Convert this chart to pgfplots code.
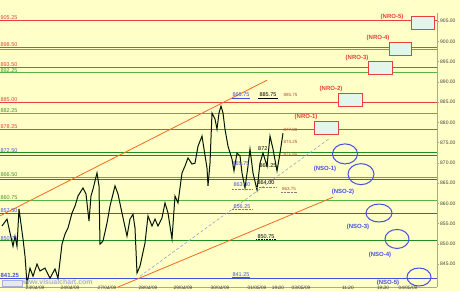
\documentclass[border=0pt]{standalone}
\usepackage{fontspec}
\setmainfont{Liberation Sans}
\usepackage{pgfplots}
\pgfplotsset{compat=1.18}
\definecolor{bgy}{HTML}{FFFFC8}
\definecolor{lred}{HTML}{E8403A}
\definecolor{lgreen}{HTML}{5AB43C}
\definecolor{dgreen}{HTML}{1E8C1E}
\definecolor{lblue}{HTML}{4650DC}
\definecolor{lorange}{HTML}{F06A1E}
\definecolor{dashc}{HTML}{9AA0D0}
\definecolor{boxfill}{HTML}{E2F6EC}
\definecolor{brn}{HTML}{B05030}
\definecolor{wm}{HTML}{A8B0D8}
\newcommand\lbl{\fontsize{5.5}{6}\selectfont}
\newcommand\nlbl{\bfseries\fontsize{6}{7}\selectfont}
\begin{document}
\begin{tikzpicture}[x=1pt,y=1pt]
\useasboundingbox (0,0) rectangle (460,291);
\fill[bgy] (0,0) rectangle (460,291);
\begin{axis}[at={(0,10)}, anchor=south west, scale only axis,
  width=437pt, height=274pt,
  xmin=0, xmax=437, ymin=839.35, ymax=907.0,
  axis y line*=right, axis x line*=bottom,
  axis line style={gray!70, line width=0.6pt},
  tick style={gray!70, line width=0.5pt},
  major tick length=2pt,
  tick align=outside,
  ytick={845,850,...,905},
  yticklabel style={font=\fontsize{5}{6}\selectfont, text=black!75, inner sep=1pt, /pgf/number format/.cd, fixed, fixed zerofill, precision=2},
  xtick={35,70,107,148,183,220,257,278,301,348,383,408},
  xticklabels={23/04/09,24/04/09,27/04/09,28/04/09,29/04/09,30/04/09,01/05/09,19:00,03/05/09,11:20,19:30,04/05/09},
  xticklabel style={font=\fontsize{4.8}{5}\selectfont, text=black!75, inner sep=0pt, anchor=north, yshift=3pt},
  /pgf/number format/assume math mode=true,
  clip=true,
]
% horizontal levels
\addplot[lred, line width=0.9pt] coordinates {(0,905.25) (437,905.25)};
\addplot[lred, line width=0.9pt] coordinates {(0,898.50) (437,898.50)};
\addplot[lgreen, line width=0.9pt] coordinates {(0,898.00) (437,898.00)};
\addplot[lred, line width=0.9pt] coordinates {(0,893.50) (437,893.50)};
\addplot[lgreen, line width=0.9pt] coordinates {(0,892.25) (437,892.25)};
\addplot[lred, line width=0.9pt] coordinates {(0,885.00) (437,885.00)};
\addplot[lgreen, line width=0.9pt] coordinates {(0,882.25) (437,882.25)};
\addplot[lred, line width=0.9pt] coordinates {(0,878.25) (437,878.25)};
\addplot[dgreen, line width=1.3pt] coordinates {(0,872.50) (437,872.50)};
\addplot[lblue, line width=0.9pt] coordinates {(0,871.75) (437,871.75)};
\addplot[lgreen, line width=0.9pt] coordinates {(0,866.50) (437,866.50)};
\addplot[lblue, line width=0.9pt] coordinates {(0,866.00) (437,866.00)};
\addplot[lgreen, line width=1.1pt] coordinates {(0,860.75) (437,860.75)};
\addplot[lblue, line width=0.9pt] coordinates {(0,857.50) (437,857.50)};
\addplot[dgreen, line width=1.1pt] coordinates {(0,850.75) (437,850.75)};
\addplot[lblue, line width=0.9pt] coordinates {(0,841.50) (437,841.50)};
% channel lines
\addplot[lorange, line width=0.8pt] coordinates {(0,856.9) (267,890.4)};
\addplot[lorange, line width=0.8pt] coordinates {(113,838.8) (333,861.5)};
\addplot[dashc, line width=0.6pt, dash pattern=on 3pt off 2pt] coordinates {(140,842.0) (330,876.1)};
% price path
\addplot[black!85!green!60!black, line width=1pt] coordinates {
(2,854.4) (7,856.1) (10,852.7) (13,849.4) (15,851.9) (17,849.4) (19,858.6)
(23,851.2) (25,847.0) (27,840.1) (30,844.0) (33,842.0) (37,845.0) (40,843.3)
(45,844.0) (50,841.5) (55,843.8) (58,841.5) (62,849.9) (65,852.4) (68,853.9)
(72,857.6) (75,859.3) (78,861.8) (83,863.8) (86,862.3) (89,855.6) (91,861.8)
(93,863.5) (97,867.5) (99,864.3) (100,849.9) (103,850.7) (107,855.1) (110,859.3)
(115,864.3) (118,862.3) (122,857.6) (127,851.9) (130,856.1) (133,857.3) (135,853.9)
(137,842.8) (140,844.5) (145,850.2) (148,856.9) (152,854.4) (155,856.1) (158,854.4)
(162,856.4) (165,860.1) (168,857.6) (172,851.2) (175,861.8) (178,860.1) (182,867.5)
(185,869.2) (188,871.2) (192,869.7) (195,869.9) (198,874.1) (202,876.6) (204,873.4)
(207,868.7) (208,864.3) (210,869.9) (212,882.3) (215,880.8) (217,878.3) (219,882.3)
(221,884.0) (223,882.3) (225,878.3) (228,874.1) (232,870.9) (234,868.0) (237,872.4)
(240,871.7) (242,867.5) (245,863.8) (248,869.2) (250,873.4) (253,867.5) (257,863.3)
(260,869.9) (263,872.4) (267,869.2) (270,876.6) (273,873.4) (277,868.0) (280,872.4)
(283,877.3)};
% left labels
\node[anchor=south west, inner sep=0.4pt, font=\lbl, text=lred] at (axis cs:0,905.25) {905.25};
\node[anchor=south west, inner sep=0.4pt, font=\lbl, text=lred] at (axis cs:0,898.50) {898.50};
\node[anchor=south west, inner sep=0.4pt, font=\lbl, text=lred] at (axis cs:0,893.50) {893.50};
\node[anchor=north west, inner sep=0.4pt, font=\lbl, text=lgreen!80!black] at (axis cs:0,893.30) {892.25};
\node[anchor=south west, inner sep=0.4pt, font=\lbl, text=lred] at (axis cs:0,885.00) {885.00};
\node[anchor=south west, inner sep=0.4pt, font=\lbl, text=lgreen!80!black] at (axis cs:0,882.25) {882.25};
\node[anchor=south west, inner sep=0.4pt, font=\lbl, text=lred] at (axis cs:0,878.25) {878.25};
\node[anchor=south west, inner sep=0.4pt, font=\lbl, text=lblue] at (axis cs:0,872.50) {872.50};
\node[anchor=south west, inner sep=0.4pt, font=\lbl, text=lgreen!80!black] at (axis cs:0,866.50) {866.50};
\node[anchor=south west, inner sep=0.4pt, font=\lbl, text=lgreen!80!black] at (axis cs:0,860.75) {860.75};
\node[anchor=south west, inner sep=0.4pt, font=\lbl, text=lblue] at (axis cs:0,857.50) {857.50};
\node[anchor=south west, inner sep=0.4pt, font=\lbl, text=lblue] at (axis cs:0,850.75) {850.75};
\node[anchor=south west, inner sep=0.4pt, font=\bfseries\fontsize{6}{7}\selectfont, text=lblue] at (axis cs:0,841.50) {841.25};
% annotations near price
\node[anchor=south, inner sep=0.4pt, font=\lbl, text=lblue] at (axis cs:241,886.1) {865.75};
\addplot[lblue, line width=0.8pt] coordinates {(232,886.0) (250,886.0)};
\node[anchor=south, inner sep=0.4pt, font=\lbl, text=black] at (axis cs:268,886.1) {885.75};
\addplot[black, line width=0.8pt] coordinates {(258,886.0) (278,886.0)};
\node[anchor=south west, inner sep=0.4pt, font=\fontsize{4.5}{5}\selectfont, text=brn] at (axis cs:283,886.3) {885.75};
\node[anchor=west, inner sep=0.4pt, font=\fontsize{4.5}{5}\selectfont, text=brn] at (axis cs:283,878.1) {877.00};
\node[anchor=west, inner sep=0.4pt, font=\fontsize{4.5}{5}\selectfont, text=brn] at (axis cs:283,875.1) {874.25};
\node[anchor=west, inner sep=0.4pt, font=\fontsize{4.5}{5}\selectfont, text=brn] at (axis cs:283,872.2) {871.50};
\node[anchor=east, inner sep=0.4pt, font=\lbl, text=black] at (axis cs:268,873.4) {872};
\node[anchor=east, inner sep=0.4pt, font=\lbl, text=black] at (axis cs:277,869.2) {868.25};
\node[anchor=center, inner sep=0.4pt, font=\lbl, text=lblue] at (axis cs:241,869.7) {865.75};
\node[anchor=center, inner sep=0.4pt, font=\lbl, text=lblue] at (axis cs:242,864.5) {863.00};
\addplot[gray, line width=0.4pt, densely dotted] coordinates {(232,863.5) (252,863.5)};
\node[anchor=center, inner sep=0.4pt, font=\lbl, text=black] at (axis cs:266,865.0) {864.00};
\addplot[gray, line width=0.4pt, densely dotted] coordinates {(256,864.0) (276,864.0)};
\node[anchor=center, inner sep=0.4pt, font=\fontsize{4.5}{5}\selectfont, text=brn] at (axis cs:289,863.5) {863.75};
\addplot[gray, line width=0.4pt, densely dotted] coordinates {(281,862.7) (297,862.7)};
\node[anchor=center, inner sep=0.4pt, font=\lbl, text=lblue] at (axis cs:242,859.3) {856.25};
\addplot[gray, line width=0.4pt, densely dotted] coordinates {(232,858.6) (252,858.6)};
\node[anchor=center, inner sep=0.4pt, font=\lbl, text=black] at (axis cs:266,851.8) {850.75};
\addplot[black, line width=0.6pt, densely dotted] coordinates {(256,851.15) (276,851.15)};
\node[anchor=center, inner sep=0.4pt, font=\lbl, text=lblue] at (axis cs:241,842.4) {841.25};
\addplot[lblue, line width=0.8pt] coordinates {(232,841.7) (250,841.7)};
% NRO boxes
\draw[lred, line width=1pt, fill=boxfill] (axis cs:411,906.2) rectangle (axis cs:434,903.0);
\draw[lred, line width=1pt, fill=boxfill] (axis cs:389,899.6) rectangle (axis cs:411,896.4);
\draw[lred, line width=1pt, fill=boxfill] (axis cs:368,894.9) rectangle (axis cs:392,891.7);
\draw[lred, line width=1pt, fill=boxfill] (axis cs:338,887.0) rectangle (axis cs:362,884.0);
\draw[lred, line width=1pt, fill=boxfill] (axis cs:314,880.1) rectangle (axis cs:338,877.1);
\node[font=\nlbl, text=lred, inner sep=0pt] at (axis cs:392,906.0) {(NRO-5)};
\node[font=\nlbl, text=lred, inner sep=0pt] at (axis cs:378,900.8) {(NRO-4)};
\node[font=\nlbl, text=lred, inner sep=0pt] at (axis cs:357,895.9) {(NRO-3)};
\node[font=\nlbl, text=lred, inner sep=0pt] at (axis cs:331,888.3) {(NRO-2)};
\node[font=\nlbl, text=lred, inner sep=0pt] at (axis cs:306,881.2) {(NRO-1)};
% NSO ellipses
\draw[lblue, line width=1pt] (axis cs:345,872.2) ellipse [x radius=12.5pt, y radius=10pt];
\draw[lblue, line width=1pt] (axis cs:361,867.2) ellipse [x radius=13pt, y radius=10.5pt];
\draw[lblue, line width=1pt] (axis cs:379,857.6) ellipse [x radius=13pt, y radius=9pt];
\draw[lblue, line width=1pt] (axis cs:397,851.2) ellipse [x radius=12pt, y radius=9.5pt];
\draw[lblue, line width=1pt] (axis cs:419,841.8) ellipse [x radius=12pt, y radius=9pt];
\node[font=\nlbl, text=lblue, inner sep=0pt] at (axis cs:325,868.4) {(NSO-1)};
\node[font=\nlbl, text=lblue, inner sep=0pt] at (axis cs:343,862.8) {(NSO-2)};
\node[font=\nlbl, text=lblue, inner sep=0pt] at (axis cs:358,854.1) {(NSO-3)};
\node[font=\nlbl, text=lblue, inner sep=0pt] at (axis cs:380,847.2) {(NSO-4)};
\node[font=\nlbl, text=lblue, inner sep=0pt] at (axis cs:388,840.4) {(NSO-5)};
% watermark
\node[font=\bfseries\fontsize{7}{8}\selectfont, text=wm, inner sep=0pt] at (axis cs:57,840.5) {www.visualchart.com};
\draw[wm, line width=0.5pt, fill=white!70!wm] (axis cs:2,841.1) rectangle (axis cs:22,839.6);
\end{axis}
\end{tikzpicture}
\end{document}
